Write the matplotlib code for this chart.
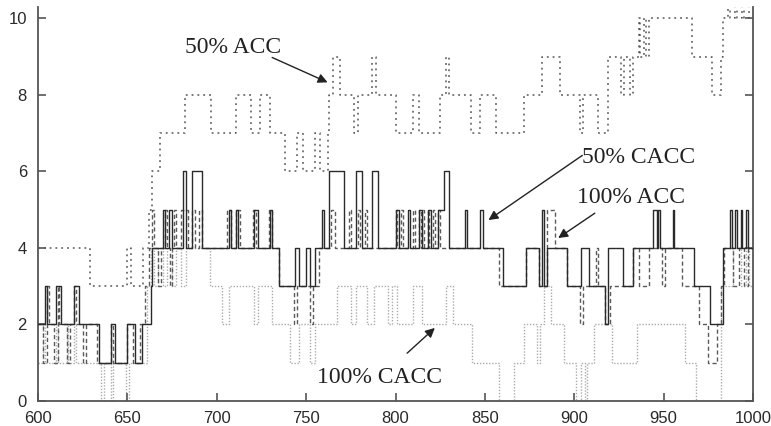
import matplotlib.pyplot as plt
import numpy as np

# Step data: x where a new level starts, and the level (number of vehicles)
acc50_x = [600, 629, 650, 652, 659, 662, 664, 668, 682, 697,
           711, 719, 724, 730, 738, 745, 748, 755, 758, 762,
           763, 765, 769, 777, 779, 787, 789, 800, 810, 813,
           825, 828, 830, 842, 847, 856, 872, 882, 892, 903,
           905, 913, 919, 926, 928, 931, 933, 936, 937, 939,
           940, 942, 966, 977, 982, 983, 986, 987, 990, 991,
           994, 995, 998]
acc50_y = [4, 3, 4, 3, 4, 5, 6, 7, 8, 7,
           8, 7, 8, 7, 6, 7, 6, 7, 6, 7,
           8, 9, 8, 7, 8, 9, 8, 7, 8, 7,
           8, 9, 8, 7, 8, 7, 8, 9, 8, 7,
           8, 7, 9, 8, 9, 8, 9, 10, 9, 10,
           9, 10, 9, 8, 9, 10, 11, 10, 11, 10,
           11, 10, 11]

cacc50_x = [600, 604, 605, 610, 613, 620, 623, 634, 641, 643,
            650, 654, 658, 663, 664, 670, 671, 673, 675, 681,
            683, 686, 692, 707, 708, 711, 712, 721, 723, 730,
            731, 735, 744, 746, 750, 752, 755, 759, 760, 763,
            771, 778, 781, 787, 790, 800, 802, 807, 808, 813,
            815, 818, 820, 824, 827, 830, 839, 840, 847, 849,
            860, 873, 880, 882, 883, 885, 896, 904, 908, 917,
            919, 927, 933, 944, 946, 947, 948, 955, 956, 967,
            976, 983, 987, 988, 990, 991, 993, 994, 996, 997]
cacc50_y = [2, 3, 2, 3, 2, 3, 2, 1, 2, 1,
            2, 1, 2, 3, 4, 5, 4, 5, 4, 6,
            4, 6, 4, 5, 4, 5, 4, 5, 4, 5,
            4, 3, 4, 3, 4, 3, 4, 5, 4, 6,
            4, 6, 4, 6, 4, 5, 4, 5, 4, 5,
            4, 5, 4, 5, 6, 4, 5, 4, 5, 4,
            3, 4, 3, 5, 3, 4, 3, 4, 3, 2,
            4, 3, 4, 5, 4, 5, 4, 5, 4, 3,
            2, 4, 5, 4, 5, 4, 5, 4, 5, 4]

acc100_x = [600, 603, 605, 606, 609, 611, 612, 616, 618, 620,
            621, 625, 627, 633, 641, 642, 650, 653, 657, 660,
            662, 664, 665, 667, 669, 671, 672, 674, 675, 676,
            677, 680, 684, 686, 688, 690, 692, 706, 708, 711,
            713, 720, 722, 729, 731, 735, 743, 745, 752, 754,
            757, 764, 766, 774, 775, 779, 780, 783, 784, 800,
            801, 803, 804, 810, 811, 813, 814, 815, 816, 818,
            819, 821, 822, 824, 825, 858, 873, 880, 885, 889,
            896, 903, 905, 912, 913, 917, 920, 933, 936, 942,
            949, 951, 960, 970, 975, 980, 982, 984, 989, 992,
            995, 997]
acc100_y = [2, 1, 3, 2, 1, 3, 2, 1, 2, 3,
            2, 1, 2, 1, 2, 1, 2, 1, 2, 3,
            4, 5, 4, 3, 4, 5, 4, 3, 4, 5,
            4, 5, 4, 5, 4, 5, 4, 5, 4, 5,
            4, 5, 4, 5, 4, 3, 2, 3, 2, 3,
            4, 5, 4, 5, 4, 5, 4, 5, 4, 5,
            4, 5, 4, 5, 4, 5, 4, 5, 4, 5,
            4, 5, 4, 5, 4, 3, 4, 3, 5, 4,
            3, 2, 3, 4, 3, 2, 3, 4, 3, 4,
            3, 4, 3, 2, 1, 2, 3, 4, 3, 4,
            3, 4]

cacc100_x = [600, 603, 604, 610, 611, 616, 617, 620, 621, 635,
             637, 641, 642, 649, 651, 661, 663, 665, 667, 670,
             672, 675, 677, 680, 683, 696, 703, 707, 721, 723,
             731, 741, 746, 752, 755, 767, 775, 778, 784, 788,
             796, 798, 801, 810, 815, 828, 832, 843, 858, 866,
             872, 879, 881, 883, 887, 894, 901, 904, 906, 907,
             911, 921, 935, 962, 968, 982, 989, 993, 996, 998]
cacc100_y = [1, 2, 1, 2, 1, 2, 1, 2, 1, 0,
             1, 0, 1, 0, 1, 3, 4, 3, 4, 3,
             4, 3, 4, 3, 4, 3, 2, 3, 2, 3,
             2, 1, 2, 1, 2, 3, 2, 3, 2, 3,
             2, 3, 2, 3, 2, 3, 2, 1, 0, 1,
             2, 1, 2, 3, 2, 1, 0, 1, 0, 1,
             2, 1, 2, 1, 0, 3, 4, 3, 4, 3]

x_end = 1000

series = [
    # (x, y, color, linestyle, linewidth, zorder)
    (cacc100_x, cacc100_y, "#ababab", (0, (1, 1.2)), 1.0, 1),
    (acc100_x, acc100_y, "#5a5a5a", (0, (3, 2)), 1.0, 2),
    (acc50_x, acc50_y, "#555555", (0, (1.2, 2.6)), 1.1, 3),
    (cacc50_x, cacc50_y, "#2a2a2a", "-", 1.0, 4),
]

fig = plt.figure(figsize=(7.71, 4.26), dpi=100)
ax = fig.add_axes([0.0493, 0.0587, 0.9274, 0.9249])

for xs, ys, color, ls, lw, z in series:
    xs = np.append(xs, x_end)
    ys = np.append(ys, ys[-1])
    ax.step(xs, ys, where="post", color=color, linestyle=ls, linewidth=lw, zorder=z)

ax.set_xlim(600, 1000)
ax.set_ylim(0, 10.3)
ax.set_xticks(np.arange(600, 1001, 50))
ax.set_yticks(np.arange(0, 11, 2))

for side in ["left", "bottom", "right"]:
    ax.spines[side].set_color("#555555")
    ax.spines[side].set_linewidth(1.3)
ax.spines["top"].set_visible(False)

ax.tick_params(
    direction="in",
    length=6,
    width=1.2,
    color="#555555",
    labelsize=12,
    labelcolor="#2a2a2a",
    right=True,
    top=False,
)
ax.tick_params(axis="x", pad=7)
ax.tick_params(axis="y", pad=8)
for lbl in ax.get_xticklabels() + ax.get_yticklabels():
    lbl.set_family("Liberation Sans")

# Labels with arrows
label_font = dict(family="Liberation Serif", size=17, color="#222222")
labels = [
    # (text, text_xy, arrow_start, arrow_tip)
    ("50% ACC", (682, 9.11), (731, 8.98), (762, 8.33)),
    ("50% CACC", (904.5, 6.21), (904.5, 6.42), (852, 4.73)),
    ("100% ACC", (901.5, 5.17), (911.5, 4.91), (891, 4.26)),
    ("100% CACC", (756, 0.47), (806.5, 1.25), (822, 1.91)),
]
for text, txy, start, tip in labels:
    ax.text(txy[0], txy[1], text, ha="left", va="baseline", zorder=6, **label_font)
    ax.annotate(
        "",
        xy=tip,
        xytext=start,
        arrowprops=dict(
            arrowstyle="-|>",
            color="#222222",
            lw=1.0,
            mutation_scale=14,
            shrinkA=0,
            shrinkB=0,
        ),
        zorder=6,
    )

fig.savefig("out.png", dpi=100)
